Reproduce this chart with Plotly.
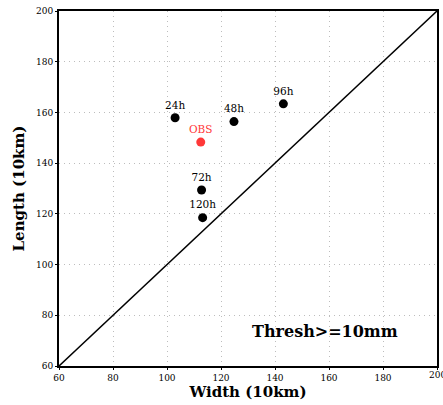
import plotly.graph_objects as go

labels = ["24h", "48h", "72h", "96h", "120h"]
widths = [103, 124.8, 112.8, 143.1, 113.2]
lengths = [157.9, 156.4, 129.4, 163.4, 118.5]
obs_label = ["OBS"]
obs_width = [112.5]
obs_length = [148.3]
ticks = [60, 80, 100, 120, 140, 160, 180, 200]

font = "DejaVu Serif"

fig = go.Figure()
fig.add_trace(go.Scatter(x=[60, 200], y=[60, 200], mode="lines",
                         line=dict(color="black", width=1.5), hoverinfo="skip"))
fig.add_trace(go.Scatter(x=widths, y=lengths, mode="markers+text", text=labels,
                         textposition="top center",
                         textfont=dict(family=font, size=10.5, color="black"),
                         marker=dict(color="black", size=9)))
fig.add_trace(go.Scatter(x=obs_width, y=obs_length, mode="markers+text", text=obs_label,
                         textposition="top center",
                         textfont=dict(family=font, size=10.5, color="#ff3838"),
                         marker=dict(color="#ff3838", size=9)))

fig.add_annotation(x=158.7, y=73.8, text="<b>Thresh>=10mm</b>", showarrow=False,
                   font=dict(family=font, size=16, color="black"))
# last x tick label, partly cut by the page edge as in the reference
fig.add_annotation(x=ticks[-1], y=0, yref="paper", yanchor="top", yshift=-2,
                   text=str(ticks[-1]), showarrow=False,
                   font=dict(family=font, size=9, color="black"))

axis_common = dict(range=[60, 200], tickvals=ticks, showgrid=True, automargin=False,
                   gridcolor="#bdbdbd", griddash="1px,4px", gridwidth=1,
                   showline=True, linecolor="black", linewidth=2, mirror=True,
                   zeroline=False, ticks="outside", ticklen=2, tickcolor="black",
                   tickfont=dict(family=font, size=9, color="black"))

fig.update_layout(
    width=443, height=405,
    margin=dict(l=59, r=6, t=11, b=39),
    paper_bgcolor="white", plot_bgcolor="white",
    showlegend=False,
    xaxis=dict(**axis_common,
               title=dict(text="<b>Width (10km)</b>", standoff=5,
                          font=dict(family=font, size=15, color="black"))),
    yaxis=dict(**axis_common,
               title=dict(text="<b>Length (10km)</b>", standoff=8,
                          font=dict(family=font, size=15, color="black"))),
)

fig.write_html("out.html", config={"displayModeBar": False},
               post_script="document.body.style.margin='0';document.body.style.overflow='hidden';")
